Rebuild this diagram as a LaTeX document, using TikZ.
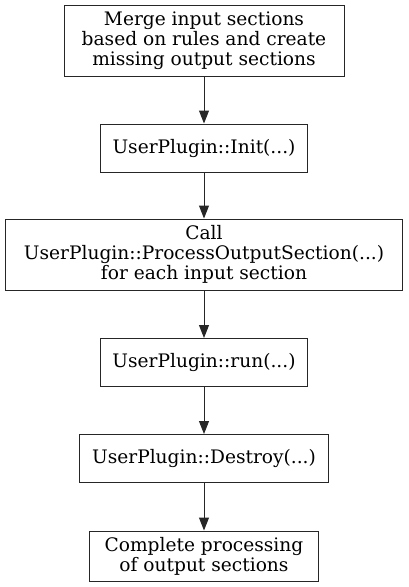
\documentclass[tikz,border=0pt]{standalone}
\usepackage{fontspec}
\setmainfont{DejaVu Serif}
\usetikzlibrary{arrows.meta}
\tikzset{
  box/.style={draw=black!85, line width=1pt, align=center, inner sep=0pt,
    font=\fontsize{18.6}{20}\selectfont},
  flow/.style={draw=black!85, line width=1pt, -{Triangle[length=13pt,width=10pt]}}
}
\begin{document}
\begin{tikzpicture}[x=1pt,y=1pt]
\useasboundingbox (0,0) rectangle (408,-587);
\node[box, minimum width=280pt, minimum height=71pt] (n1) at (204,-40.5)
  {Merge input sections\\based on rules and create\\missing output sections};
\node[box, minimum width=207pt, minimum height=48pt] (n2) at (204,-148)
  {UserPlugin::Init(...)};
\node[box, minimum width=397pt, minimum height=71pt] (n3) at (204,-254.5)
  {Call\\UserPlugin::ProcessOutputSection(...)\\for each input section};
\node[box, minimum width=207pt, minimum height=48pt] (n4) at (204,-362.5)
  {UserPlugin::run(...)};
\node[box, minimum width=249pt, minimum height=48pt] (n5) at (204,-458.5)
  {UserPlugin::Destroy(...)};
\node[box, minimum width=229pt, minimum height=50pt] (n6) at (204,-556)
  {Complete processing\\of output sections};
\draw[flow] (n1) -- (n2);
\draw[flow] (n2) -- (n3);
\draw[flow] (n3) -- (n4);
\draw[flow] (n4) -- (n5);
\draw[flow] (n5) -- (n6);
\end{tikzpicture}
\end{document}
